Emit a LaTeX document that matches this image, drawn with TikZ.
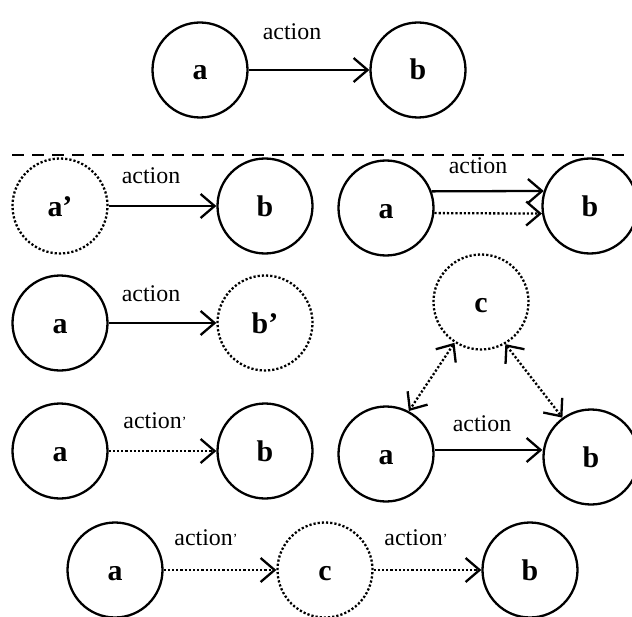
\documentclass[tikz,border=0pt]{standalone}
\usepackage{fontspec}
\setmainfont{Liberation Serif}
\usetikzlibrary{arrows.meta}
\tikzset{
  st/.style={circle, draw, line width=2.3bp, minimum size=95bp, inner sep=0pt, text height=20bp, text depth=0bp, font=\fontsize{30}{30}\selectfont\bfseries},
  ghost/.style={st, dash pattern=on 2.2bp off 2bp},
  lab/.style={font=\fontsize{24}{24}\selectfont, inner sep=0pt},
  arr/.style={line width=2.3bp, -{Straight Barb[length=14bp,width=24bp,line width=2.3bp]}},
  darr/.style={arr, dash pattern=on 2.2bp off 2bp},
  barr/.style={line width=2.3bp, dash pattern=on 2.2bp off 2bp, {Straight Barb[length=14bp,width=24bp,line width=2.3bp]}-{Straight Barb[length=14bp,width=24bp,line width=2.3bp]}}
}
\newcommand{\pr}{{\fontsize{14}{14}\selectfont\raisebox{2bp}{’}}}
\begin{document}
\begin{tikzpicture}[x=1bp,y=-1bp]
\useasboundingbox (0,0) rectangle (632,617);
% top
\node[st] (a0) at (200,70) {a};
\node[st] (b0) at (418,70) {b};
\draw[arr] (a0) -- (b0);
\node[lab] (l0) at (292,32) {action};
% divider
\coordinate (d1) at (12,155);
\coordinate (d2) at (640,155);
\draw[line width=2.3bp, dash pattern=on 12bp off 8bp] (d1) -- (d2);
% row 2 left
\node[ghost] (a1) at (60,206) {a’};
\node[st] (b1) at (265,206) {b};
\draw[arr] (a1) -- (b1);
\node[lab] (l1) at (151,176) {action};
% row 2 right
\node[st] (a2) at (386,208) {a};
\node[st] (b2) at (590,206) {b};
\draw[arr] (a2.20) -- (b2.162);
\draw[darr] (a2.-6) -- (b2.189);
\node[lab] (l2) at (478,166) {action};
% row 3 left
\node[st] (a3) at (60,323) {a};
\node[ghost] (b3) at (265,323) {b’};
\draw[arr] (a3) -- (b3);
\node[lab] (l3) at (151,294) {action};
% row 3/4 right triangle
\node[ghost] (c4) at (481,302) {c};
\node[st] (a4) at (386,454) {a};
\node[st] (b4) at (591,457) {b};
\draw[arr] (a4.east |- 0,450) -- (b4.west |- 0,450);
\node[lab] (l4) at (482,424) {action};
\draw[barr] (c4.237) -- (a4.62);
\draw[barr] (c4.300) -- (b4.126);
% row 4 left
\node[st] (a5) at (60,451) {a};
\node[st] (b5) at (265,451) {b};
\draw[darr] (a5) -- (b5);
\node[lab] (l5) at (155,421) {action\pr};
% bottom row
\node[st] (a6) at (115,570) {a};
\node[ghost] (c6) at (325,570) {c};
\node[st] (b6) at (530,570) {b};
\draw[darr] (a6) -- (c6);
\draw[darr] (c6) -- (b6);
\node[lab] (l6) at (206,538) {action\pr};
\node[lab] (l7) at (416,538) {action\pr};
\end{tikzpicture}
\end{document}
